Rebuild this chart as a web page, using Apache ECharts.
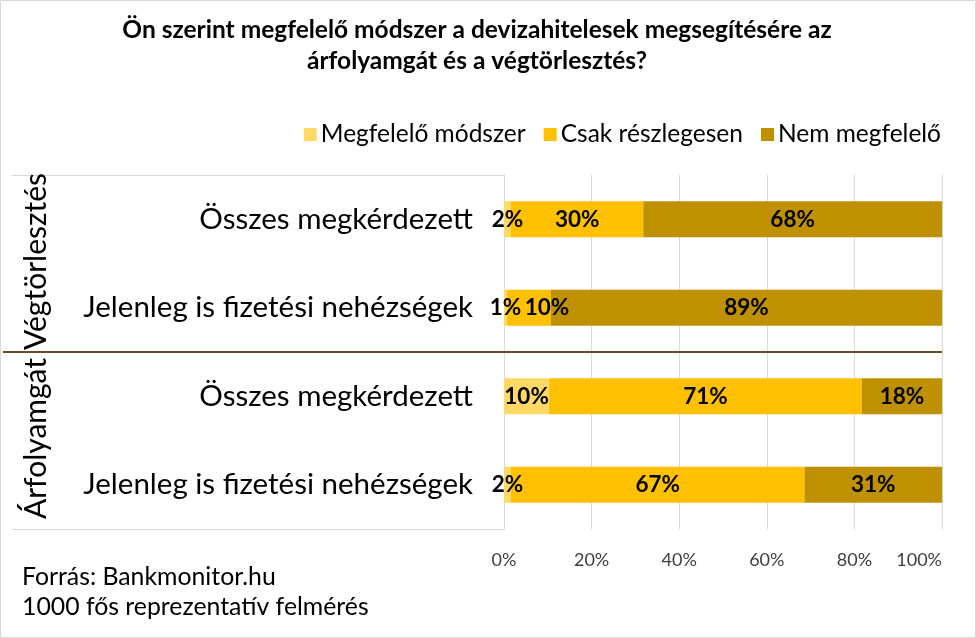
<!DOCTYPE html>
<html>
    <head>
        <meta charset="utf-8" />
        <title>ECharts</title>
        <script src="https://cdn.jsdelivr.net/npm/echarts@6/dist/echarts.min.js"></script>
        <style>
            body { margin: 0; }
        </style>
    </head>
    <body>
        <div id="main" style="width: 976px;height: 638px;"></div>
        <script type="text/javascript">
            const categories = [
                "Összes megkérdezett",
                "Jelenleg is fizetési nehézségek",
                "Összes megkérdezett",
                "Jelenleg is fizetési nehézségek"
            ];
            const groups = ["Végtörlesztés", "Árfolyamgát"];
            const seriesNames = ["Megfelelő módszer", "Csak részlegesen", "Nem megfelelő"];

            const megfelelo = [1.6, 0.7, 10.3, 1.6];
            const reszleges = [30.2, 10.0, 71.4, 67.0];
            const nemMegfelelo = [68.2, 89.3, 18.3, 31.4];

            const xTicks = [0, 20, 40, 60, 80, 100];

            const FONT = 'Lato, "Open Sans", sans-serif';
            const colors = ['#FFD966', '#FFC000', '#BF9000'];

            // grid box
            const gLeft = 504, gRight = 942, gTop = 175, gBottom = 529;
            const band = (gBottom - gTop) / categories.length;

            const myChart = echarts.init(document.getElementById('main'));

            // the "10%" label in the 2nd row sits to the right in the original
            const nudge = { '1-1': [18, 0] };

            const makeSeries = (values, idx) => ({
                type: 'bar',
                name: seriesNames[idx],
                stack: 'total',
                barWidth: 36,
                itemStyle: { color: colors[idx] },
                label: {
                    show: true,
                    position: 'inside',
                    color: '#000',
                    fontFamily: FONT,
                    fontWeight: 'bold',
                    fontSize: 22.5,
                    formatter: (p) => Math.round(p.value) + '%'
                },
                data: values.map((v, i) => {
                    const off = nudge[idx + '-' + i];
                    return off ? { value: v, label: { offset: off } } : v;
                })
            });

            const option = {
                animation: false,
                backgroundColor: '#fff',
                title: {
                    text: 'Ön szerint megfelelő módszer a devizahitelesek megsegítésére az\nárfolyamgát és a végtörlesztés?',
                    left: 472,
                    top: 10,
                    textAlign: 'center',
                    textStyle: {
                        fontFamily: FONT,
                        fontWeight: 'bold',
                        fontSize: 24.5,
                        lineHeight: 31,
                        color: '#000'
                    }
                },
                legend: {
                    right: 30,
                    top: 117,
                    icon: 'rect',
                    itemWidth: 13,
                    itemHeight: 13,
                    itemGap: 18,
                    data: seriesNames,
                    textStyle: {
                        fontFamily: FONT,
                        fontSize: 24.5,
                        color: '#000',
                        padding: [0, 0, 0, -1]
                    }
                },
                grid: {
                    left: gLeft,
                    right: 976 - gRight,
                    top: gTop,
                    bottom: 638 - gBottom
                },
                xAxis: {
                    type: 'value',
                    min: 0,
                    max: 100,
                    interval: 20,
                    axisLine: { show: false },
                    axisTick: { show: false },
                    splitLine: { lineStyle: { color: '#d9d9d9', width: 1 } },
                    axisLabel: {
                        margin: 22,
                        fontFamily: FONT,
                        fontSize: 18,
                        color: '#404040',
                        alignMaxLabel: 'right',
                        formatter: (v) => xTicks.includes(v) ? v + '%' : ''
                    }
                },
                yAxis: {
                    type: 'category',
                    inverse: true,
                    data: categories,
                    axisLine: { show: true, lineStyle: { color: '#d9d9d9' } },
                    axisTick: { show: false },
                    axisLabel: {
                        margin: 31,
                        fontFamily: FONT,
                        fontSize: 29.5,
                        color: '#000'
                    }
                },
                series: [
                    makeSeries(megfelelo, 0),
                    makeSeries(reszleges, 1),
                    makeSeries(nemMegfelelo, 2)
                ],
                graphic: [
                    // outer frame
                    {
                        type: 'rect',
                        shape: { x: 0.5, y: 0.5, width: 975, height: 637 },
                        style: { fill: null, stroke: '#d9d9d9', lineWidth: 1 }
                    },
                    // multi-level axis box lines
                    {
                        type: 'line',
                        shape: { x1: 12, y1: gTop + 0.5, x2: gLeft, y2: gTop + 0.5 },
                        style: { stroke: '#d9d9d9', lineWidth: 1 }
                    },
                    {
                        type: 'line',
                        shape: { x1: 12, y1: gBottom + 0.5, x2: gLeft, y2: gBottom + 0.5 },
                        style: { stroke: '#d9d9d9', lineWidth: 1 }
                    },
                    // group separator
                    {
                        type: 'line',
                        z: 10,
                        shape: { x1: 3, y1: gTop + band * 2, x2: gRight, y2: gTop + band * 2 },
                        style: { stroke: '#6E4A26', lineWidth: 2 }
                    },
                    // rotated group labels
                    {
                        type: 'text',
                        x: 36,
                        y: gTop + band - 2,
                        rotation: Math.PI / 2,
                        style: {
                            text: groups[0],
                            fontFamily: FONT,
                            fontSize: 30,
                            fill: '#000',
                            align: 'center',
                            verticalAlign: 'middle'
                        }
                    },
                    {
                        type: 'text',
                        x: 36,
                        y: gTop + band * 3 - 2,
                        rotation: Math.PI / 2,
                        style: {
                            text: groups[1],
                            fontFamily: FONT,
                            fontSize: 30,
                            fill: '#000',
                            align: 'center',
                            verticalAlign: 'middle'
                        }
                    },
                    // source note
                    {
                        type: 'text',
                        left: 22,
                        top: 562,
                        style: {
                            text: 'Forrás: Bankmonitor.hu\n1000 fős reprezentatív felmérés',
                            fontFamily: FONT,
                            fontSize: 24.8,
                            lineHeight: 30,
                            fill: '#000'
                        }
                    }
                ]
            };
            myChart.setOption(option);
        </script>
    </body>
</html>
